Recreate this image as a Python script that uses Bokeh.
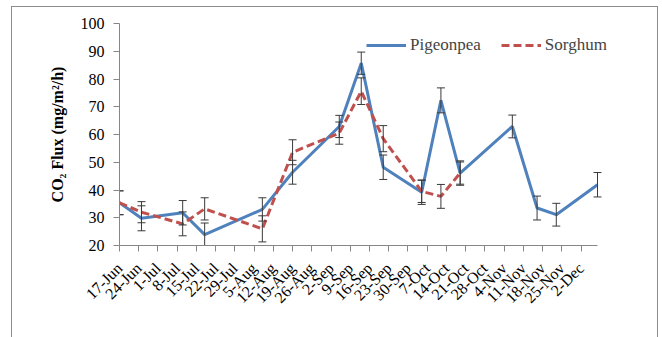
import math
import pandas as pd
from bokeh.plotting import figure
from bokeh.models import (ColumnDataSource, Whisker, TeeHead, FixedTicker,
                          Legend, LegendItem, Range1d)
from bokeh.embed import file_html
from bokeh.resources import INLINE

# ---- data ----
tick_labels = ["17-Jun", "24-Jun", "1-Jul", "8-Jul", "15-Jul", "22-Jul", "29-Jul",
               "5-Aug", "12-Aug", "19-Aug", "26-Aug", "2-Sep", "9-Sep", "16-Sep",
               "23-Sep", "30-Sep", "7-Oct", "14-Oct", "21-Oct", "28-Oct", "4-Nov",
               "11-Nov", "18-Nov", "25-Nov", "2-Dec"]
axis_end = "8-Dec"

pp_dates = ["17-Jun", "25-Jun", "10-Jul", "18-Jul", "8-Aug", "19-Aug", "5-Sep",
            "13-Sep", "21-Sep", "5-Oct", "12-Oct", "19-Oct", "7-Nov", "16-Nov",
            "23-Nov", "8-Dec"]
pp_flux = [35.4, 29.8, 31.8, 23.9, 33.0, 46.4, 62.9, 85.7, 48.2, 39.2, 72.3, 46.1,
           62.9, 33.5, 31.1, 41.9]
pp_err = [4.3, 4.5, 4.4, 4.2, 4.2, 4.3, 4.0, 4.0, 4.4, 4.4, 4.5, 4.4, 4.1, 4.3, 4.1, 4.4]

sg_dates = ["17-Jun", "25-Jun", "10-Jul", "18-Jul", "8-Aug", "19-Aug", "5-Sep",
            "13-Sep", "21-Sep", "5-Oct", "12-Oct", "19-Oct"]
sg_flux = [35.4, 32.0, 27.8, 33.2, 26.0, 53.6, 60.5, 75.6, 58.5, 39.5, 37.7, 46.1]
sg_err = [4.3, 3.8, 4.3, 4.0, 4.7, 4.5, 4.0, 4.8, 4.7, 4.0, 4.3, 4.0]

y_ticks = [20, 30, 40, 50, 60, 70, 80, 90, 100]

BASE = pd.Timestamp("2012-06-17")


def day(s):
    return int((pd.to_datetime(s + "-2012", format="%d-%b-%Y") - BASE).days)


FONT = "Liberation Serif"
BLUE = "#4F81BD"
RED = "#C0504D"
AXIS = "#868686"
ERR = "#3a3a3a"

x_end = day(axis_end)
# frame extends a little past the axis end so the legend is not clipped
p = figure(frame_width=522, frame_height=222, output_backend="svg",
           toolbar_location=None,
           x_range=Range1d(0, x_end * 522 / 478), y_range=Range1d(20, 100),
           min_border_left=107, min_border_top=16, min_border_right=16,
           min_border_bottom=93)
p.margin = (6, 0, 0, 11)
p.styles = {"border-top": "1px solid #8c8c8c", "border-left": "1px solid #8c8c8c",
            "border-right": "1px solid #8c8c8c"}
p.outline_line_color = None
p.xgrid.visible = False
p.ygrid.visible = False
p.background_fill_color = "white"
p.border_fill_color = "white"

xt = [day(s) for s in tick_labels]
p.xaxis.ticker = FixedTicker(ticks=xt)
p.xaxis.bounds = (0, x_end)
p.xaxis.major_label_overrides = {d: s for d, s in zip(xt, tick_labels)}
p.xaxis.major_label_orientation = math.pi / 4
p.yaxis.ticker = FixedTicker(ticks=y_ticks)
for ax in (p.xaxis[0], p.yaxis[0]):
    ax.axis_line_color = AXIS
    ax.major_tick_line_color = AXIS
    ax.minor_tick_line_color = None
    ax.major_tick_in = 0
    ax.major_tick_out = 6
    ax.major_label_text_font = FONT
    ax.major_label_text_font_size = "16px"
    ax.major_label_text_color = "black"
p.yaxis.major_label_standoff = 9
p.xaxis.major_label_standoff = 14
p.yaxis.axis_label = "CO\u2082 Flux (mg/m\u00b2/h)"
p.yaxis.axis_label_text_font = FONT
p.yaxis.axis_label_text_font_style = "bold"
p.yaxis.axis_label_text_font_size = "16px"
p.yaxis.axis_label_text_color = "black"
p.yaxis.axis_label_standoff = 12

pp_src = ColumnDataSource(dict(x=[day(d) for d in pp_dates], y=pp_flux,
                               upper=[v + e for v, e in zip(pp_flux, pp_err)],
                               lower=[v - e for v, e in zip(pp_flux, pp_err)]))
sg_src = ColumnDataSource(dict(x=[day(d) for d in sg_dates], y=sg_flux,
                               upper=[v + e for v, e in zip(sg_flux, sg_err)],
                               lower=[v - e for v, e in zip(sg_flux, sg_err)]))

for src in (pp_src, sg_src):
    w = Whisker(base="x", upper="upper", lower="lower", source=src,
                line_color=ERR, line_width=1, level="glyph",
                upper_head=TeeHead(size=8, line_color=ERR, line_width=1),
                lower_head=TeeHead(size=8, line_color=ERR, line_width=1))
    p.add_layout(w)

r_pp = p.line("x", "y", source=pp_src, line_color=BLUE, line_width=3)
r_sg = p.line("x", "y", source=sg_src, line_color=RED, line_width=3,
              line_dash="8 4")

legend = Legend(items=[LegendItem(label="Pigeonpea", renderers=[r_pp]),
                       LegendItem(label="Sorghum", renderers=[r_sg])],
                orientation="horizontal", location=(247, 190),
                border_line_color=None, background_fill_alpha=0,
                glyph_width=40, label_text_font=FONT,
                label_text_font_size="17px",
                padding=0, spacing=20, margin=0, label_standoff=4)
p.add_layout(legend)

open("out.html", "w").write(file_html(p, INLINE))
